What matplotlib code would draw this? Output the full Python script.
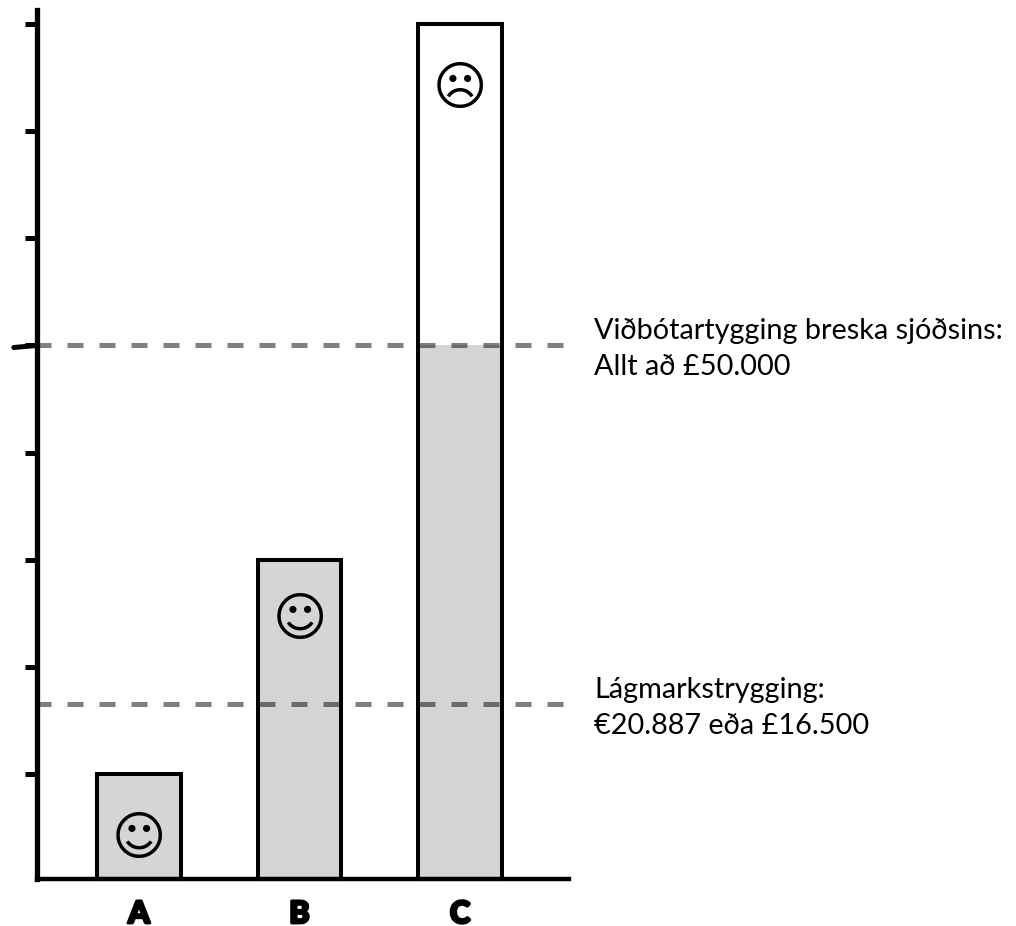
import matplotlib
matplotlib.use('Agg')
import matplotlib.pyplot as plt
import matplotlib.patheffects as pe

W, H = 1016, 926

categories = ['A', 'B', 'C']
totals = [10000, 30000, 80000]
covered = [10000, 30000, 50000]
faces = ['\u263a', '\u263a', '\u2639']
face_levels = [3800, 24300, 73900]
tick_values = [10000, 20000, 30000, 40000, 50000, 60000, 70000, 80000]
thresholds = [16500, 50000]
threshold_labels = ['Lágmarkstrygging:\n€20.887 eða £16.500',
                    'Viðbótartygging breska sjóðsins:\nAllt að £50.000']

# axis floor sits just above zero in the picture
FLOOR = 230

plt.rcParams['font.family'] = ['Lato', 'DejaVu Sans']

fig = plt.figure(figsize=(W / 100, H / 100), dpi=100)
ax = fig.add_axes([36.8 / W, (H - 878.5) / H, (569 - 36.8) / W, (878.5 - 10) / H])
ax.set_xlim(-0.636, 2.679)
ax.set_ylim(FLOOR, 81326)

xs = list(range(len(categories)))
ax.bar(xs, [v - FLOOR for v in covered], bottom=FLOOR, width=0.52, color='#d5d5d5', linewidth=0, zorder=2)
ax.bar(xs, [v - FLOOR for v in totals], bottom=FLOOR, width=0.52, facecolor='none', edgecolor='black',
       linewidth=2.9, zorder=3, clip_on=False)

# dashed reference lines sit over the bars
for level in thresholds:
    ax.plot([-0.645, 2.679], [level, level], color='black', alpha=0.5, linewidth=3.6,
            dashes=(3.2, 3.2), zorder=4)

for x, level, face in zip(xs, face_levels, faces):
    ax.text(x, level, face, family='DejaVu Sans', fontsize=37.5, ha='center', va='center', zorder=5)

for level, label in zip(thresholds, threshold_labels):
    ax.text(2.835, level - 330, label, fontsize=20.8, ha='left', va='center', linespacing=1.45, clip_on=False)

for side in ['top', 'right']:
    ax.spines[side].set_visible(False)
ax.spines['left'].set_linewidth(3.8)
ax.spines['bottom'].set_linewidth(3.2)

ax.set_yticks(tick_values)
ax.set_yticklabels([])
ax.tick_params(axis='y', length=8.5, width=3.6, direction='out')
ax.set_xticks(xs)
ax.set_xticklabels(categories, fontsize=22, fontweight='black',
                   path_effects=[pe.withStroke(linewidth=2.0, foreground='black')])
ax.tick_params(axis='x', length=0, pad=15.5)

# the 50000 tick is longer and drawn slightly crooked
ax.annotate('', xy=(0, 50000), xycoords=('axes fraction', 'data'), xytext=(-23, -2), textcoords='offset pixels',
            arrowprops=dict(arrowstyle='-', color='black', linewidth=3.6, shrinkA=0, shrinkB=0))

fig.savefig('out.png', dpi=100)
